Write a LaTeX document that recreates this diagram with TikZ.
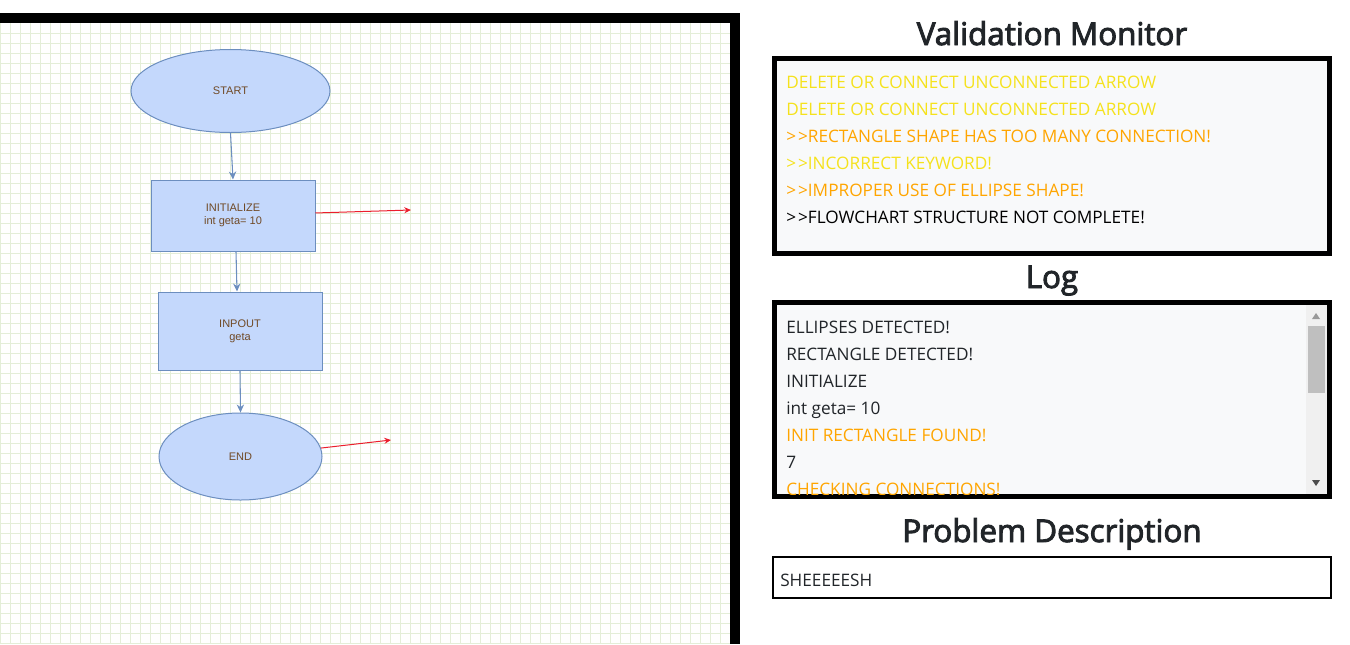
\documentclass[tikz,border=0pt]{standalone}
\usepackage{fontspec}
\setmainfont{Open Sans}
\newfontfamily\chartfont{Liberation Sans}
\newfontfamily\titlefont{Open Sans}[FakeBold=3]
\usetikzlibrary{shapes, arrows, arrows.meta, positioning, calc, shapes.geometric}

\definecolor{gridgreen}{RGB}{228,238,216}
\definecolor{shapefill}{RGB}{196,216,252}
\definecolor{shapeline}{RGB}{108,142,191}
\definecolor{shapetext}{RGB}{112,74,38}
\definecolor{loosered}{RGB}{235,30,45}
\definecolor{warnyellow}{RGB}{245,226,28}
\definecolor{warnorange}{RGB}{255,165,0}
\definecolor{paneltext}{RGB}{33,37,41}
\definecolor{panelfill}{RGB}{248,249,250}

\newcommand{\gtgt}{{>}\kern1.5pt{>}}

\tikzset{
  flowellipse/.style={ellipse, draw=shapeline, fill=shapefill, line width=0.75pt, inner sep=0pt,
    text=shapetext, align=center, font=\chartfont\fontsize{8.25}{9.75}\selectfont},
  flowrect/.style={rectangle, draw=shapeline, fill=shapefill, line width=0.75pt, inner sep=0pt,
    text=shapetext, align=center, font=\chartfont\fontsize{8.25}{9.75}\selectfont},
  flowarrow/.style={draw=shapeline, line width=0.8pt, -{Stealth[length=6pt, width=5.5pt]}},
  loosearrow/.style={draw=loosered, line width=0.75pt, -{Stealth[length=5pt, width=4.5pt]}},
  gridline/.style={draw=gridgreen, line width=0.75pt},
  paneltitle/.style={anchor=base, text=paneltext, font=\titlefont\fontsize{23.5}{26}\selectfont},
  panelbox/.style={draw=black, fill=panelfill, line width=3.75pt},
  panelline/.style={anchor=base west, inner sep=0pt, font=\fontsize{12.9}{15}\selectfont}
}

\begin{document}
\begin{tikzpicture}[x=0.75pt, y=-0.75pt]
\useasboundingbox (0,0) rectangle (1350,644);

% drawing canvas with grid
\begin{scope}
\clip (0,23) rectangle (730,644);
\foreach \gx in {0,10,...,720} \draw[gridline] (\gx,23) -- (\gx,644);
\foreach \gy in {33,43,...,643} \draw[gridline] (0,\gy) -- (730,\gy);
\end{scope}
\fill[black] (0,13) rectangle (740,23);
\fill[black] (730,13) rectangle (740,644);

% flowchart
\node[flowellipse, minimum width=149.25pt, minimum height=62.25pt] (start) at (230.5,91) {START};
\node[flowrect, minimum width=123pt, minimum height=53.25pt] (init) at (233,215.5) {INITIALIZE\\int geta= 10};
\node[flowrect, minimum width=123pt, minimum height=58.5pt] (inpout) at (240,331) {INPOUT\\geta};
\node[flowellipse, minimum width=122.25pt, minimum height=65.25pt] (end) at (240.5,456.5) {END};

\draw[flowarrow] (start.south) -- (init.north);
\draw[flowarrow] ([xshift=2.25pt]init.south) -- ([xshift=-2.25pt]inpout.north);
\draw[flowarrow] (inpout.south) -- (end.north);

\coordinate (initloose) at (411,210);
\coordinate (endloose) at (391,440);
\draw[loosearrow] ([yshift=1.9pt]init.east) -- (initloose);
\draw[loosearrow] (end.6) -- (endloose);

% validation monitor
\node[paneltitle] (vmtitle) at (1052,45) {Validation Monitor};
\draw[panelbox] (774.5,58.5) rectangle (1329.5,253.5);
\node[panelline, text=warnyellow] (vm1) at (786,88.5) {DELETE OR CONNECT UNCONNECTED ARROW};
\node[panelline, text=warnyellow] (vm2) at (786,115.5) {DELETE OR CONNECT UNCONNECTED ARROW};
\node[panelline, text=warnorange] (vm3) at (786,142.5) {\gtgt RECTANGLE SHAPE HAS TOO MANY CONNECTION!};
\node[panelline, text=warnyellow] (vm4) at (786,169.5) {\gtgt INCORRECT KEYWORD!};
\node[panelline, text=warnorange] (vm5) at (786,196.5) {\gtgt IMPROPER USE OF ELLIPSE SHAPE!};
\node[panelline, text=black] (vm6) at (786,223.5) {\gtgt FLOWCHART STRUCTURE NOT COMPLETE!};

% log
\node[paneltitle] (logtitle) at (1052,288) {Log};
\draw[panelbox] (774.5,302.5) rectangle (1329.5,496.5);
\fill[black!6] (1306,305) rectangle (1327,494);
\fill[black!25] (1308,326) rectangle (1325,393);
\fill[black!40] (1312,319) -- (1320,319) -- (1316,313) -- cycle;
\fill[black!70] (1312,480) -- (1320,480) -- (1316,486) -- cycle;
\begin{scope}
\clip (777,305) rectangle (1306,494);
\node[panelline, text=paneltext] (log1) at (786,333) {ELLIPSES DETECTED!};
\node[panelline, text=paneltext] (log2) at (786,360) {RECTANGLE DETECTED!};
\node[panelline, text=paneltext] (log3) at (786,387) {INITIALIZE};
\node[panelline, text=paneltext] (log4) at (786,414) {int geta= 10};
\node[panelline, text=warnorange] (log5) at (786,441) {INIT RECTANGLE FOUND!};
\node[panelline, text=paneltext] (log6) at (786,468) {7};
\node[panelline, text=warnorange] (log7) at (786,495) {CHECKING CONNECTIONS!};
\end{scope}

% problem description
\node[paneltitle] (pdtitle) at (1052,542) {Problem Description};
\draw[black, line width=1.5pt] (773,557) rectangle (1331,598);
\node[panelline, text=paneltext] (pdtext) at (780,586) {SHEEEEESH};
\end{tikzpicture}
\end{document}
